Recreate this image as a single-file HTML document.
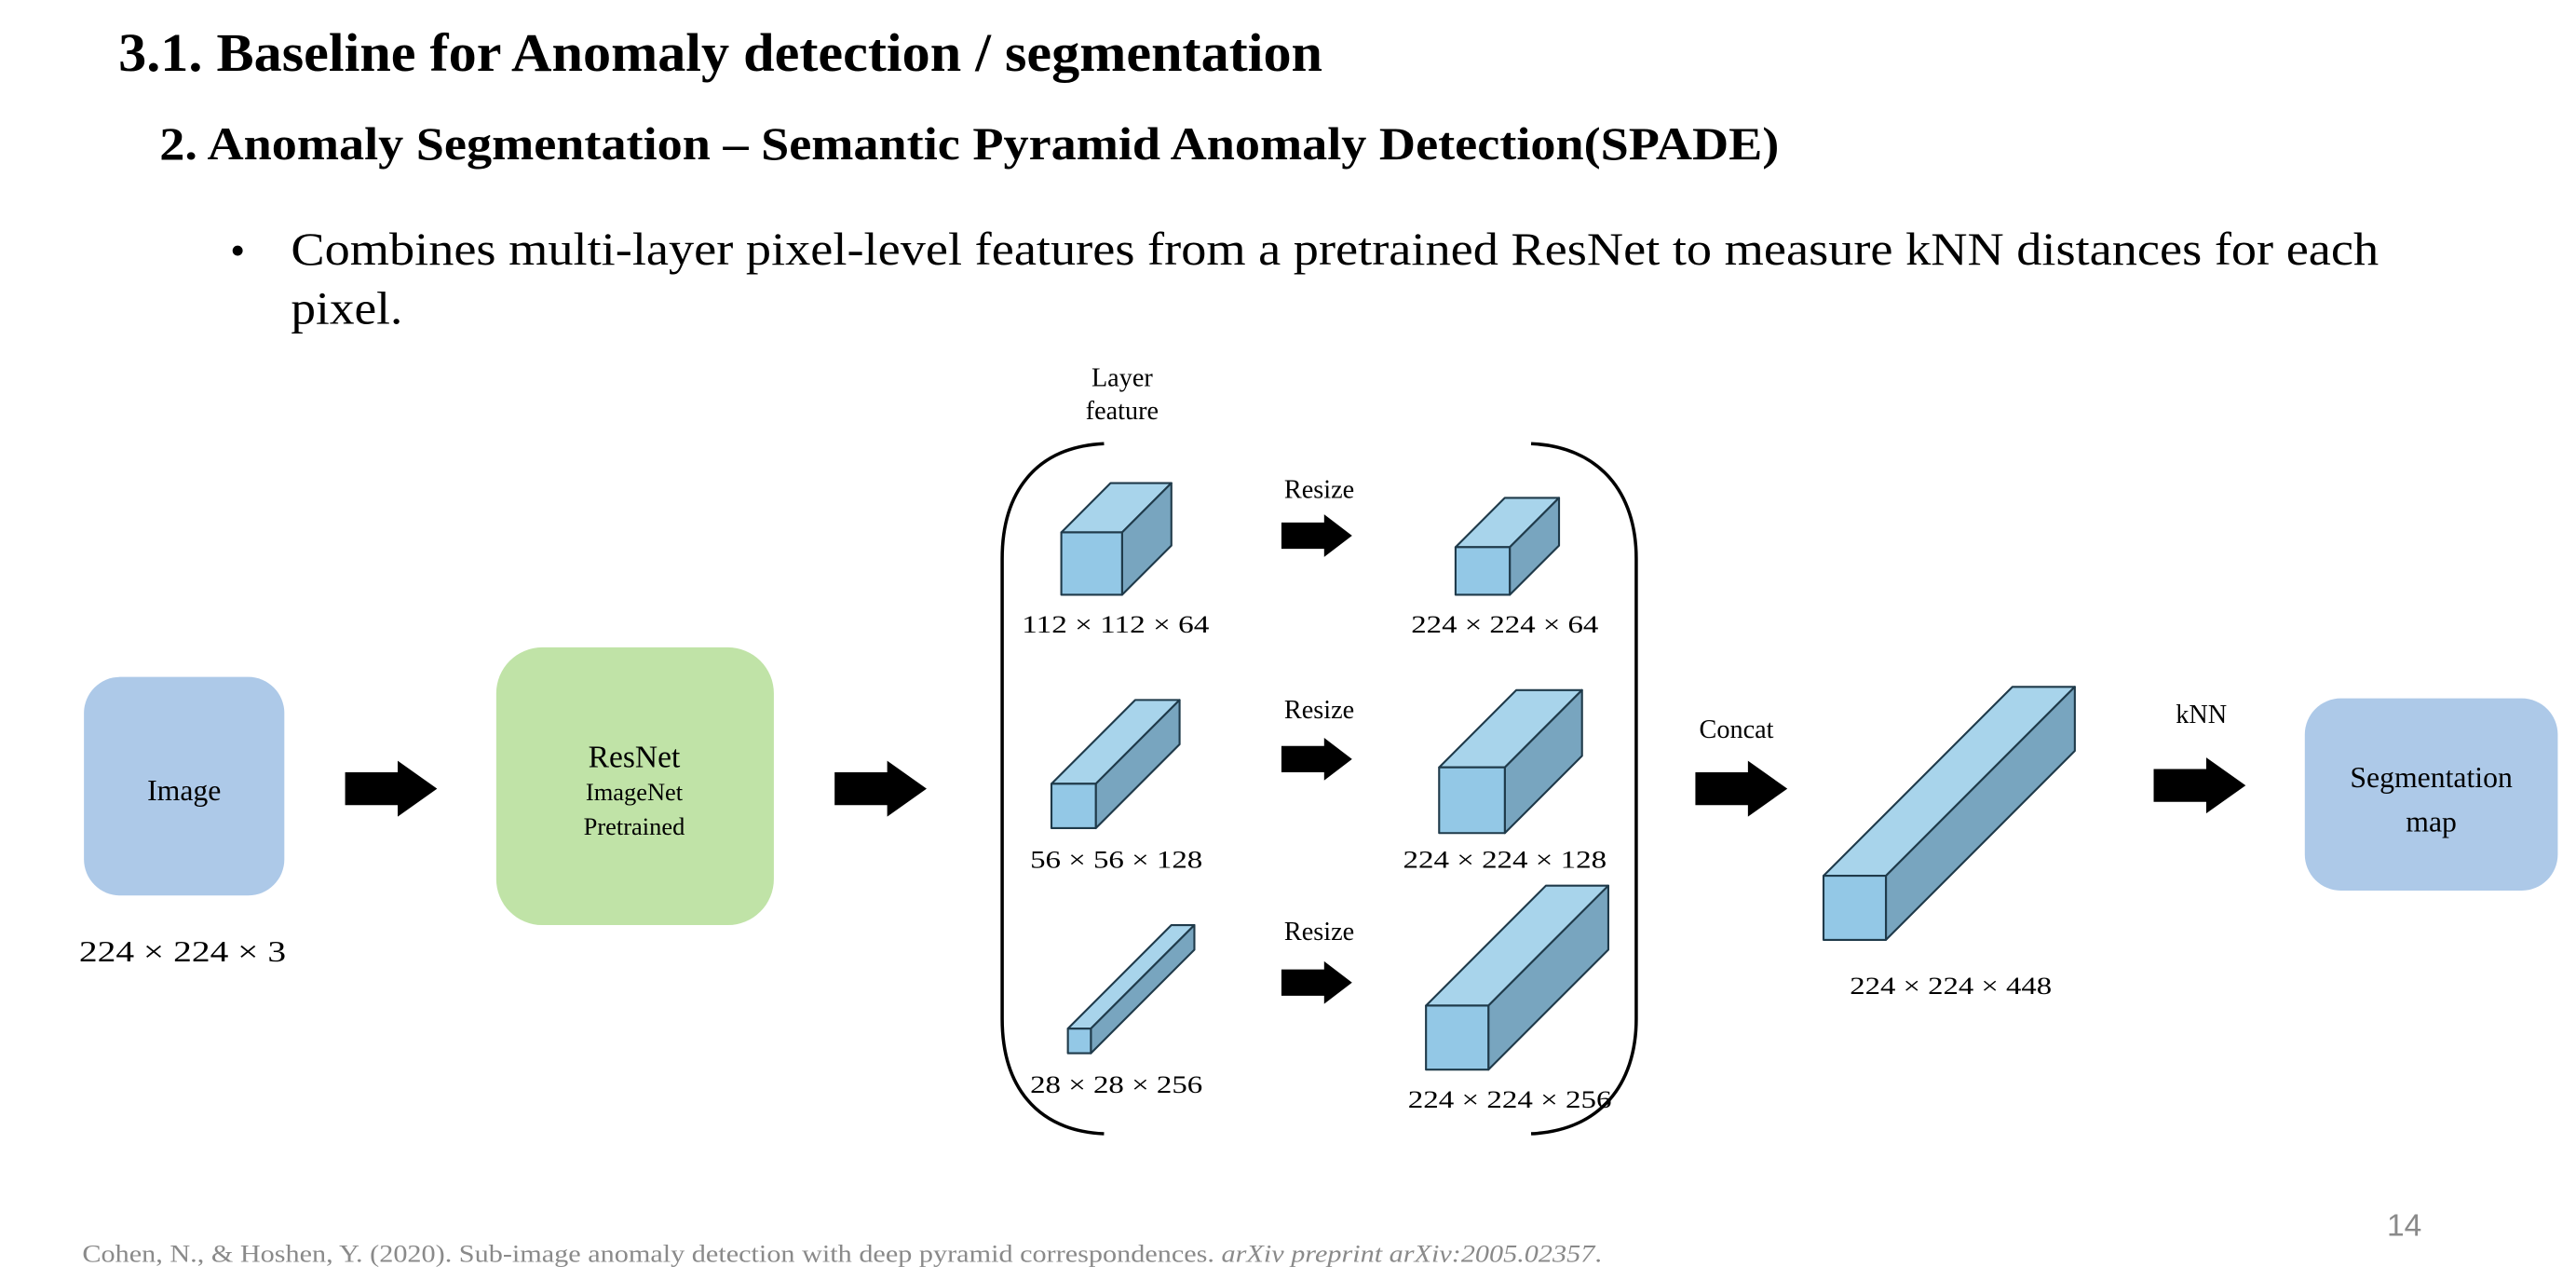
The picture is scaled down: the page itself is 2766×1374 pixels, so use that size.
<!DOCTYPE html>
<html><head><meta charset="utf-8"><style>
html,body{margin:0;padding:0;background:#fff;}
svg{display:block;}
text{font-family:"Liberation Serif",serif;}
</style></head><body>
<svg width="2766" height="1374" viewBox="0 0 1568 779" xmlns="http://www.w3.org/2000/svg">
<defs>
<g id="arr"><polygon points="0,-10 32,-10 32,-17 56,0 32,17 32,10 0,10" fill="#000"/></g>
<g id="sarr"><polygon points="0,-8 26,-8 26,-13 43,0 26,13 26,8 0,8" fill="#000"/></g>
</defs>
<text x="72" y="43" font-size="33" font-weight="bold" textLength="733" lengthAdjust="spacingAndGlyphs">3.1. Baseline for Anomaly detection / segmentation</text>
<text x="97" y="97" font-size="28" font-weight="bold" textLength="986" lengthAdjust="spacingAndGlyphs">2. Anomaly Segmentation – Semantic Pyramid Anomaly Detection(SPADE)</text>
<text x="140" y="161" font-size="26">•</text>
<text x="177" y="161" font-size="28" textLength="1271" lengthAdjust="spacingAndGlyphs">Combines multi-layer pixel-level features from a pretrained ResNet to measure kNN distances for each</text>
<text x="177" y="197" font-size="28" textLength="68" lengthAdjust="spacingAndGlyphs">pixel.</text>

<rect x="51" y="412" width="122" height="133" rx="22" fill="#adc9e8"/>
<text x="112" y="487" font-size="18" text-anchor="middle">Image</text>
<text x="48" y="585" font-size="18" textLength="126" lengthAdjust="spacingAndGlyphs">224 × 224 × 3</text>
<use href="#arr" x="210" y="480"/>
<rect x="302" y="394" width="169" height="169" rx="28" fill="#c0e3a7"/>
<text x="386" y="467" font-size="19" text-anchor="middle">ResNet</text>
<text x="386" y="487" font-size="15" text-anchor="middle">ImageNet</text>
<text x="386" y="508" font-size="15" text-anchor="middle">Pretrained</text>
<use href="#arr" x="508" y="480"/>

<text x="683" y="235" font-size="16" text-anchor="middle">Layer</text>
<text x="683" y="255" font-size="16" text-anchor="middle">feature</text>
<path d="M672,270 C630,272 610,300 610,340 L610,620 C610,660 630,688 672,690" fill="none" stroke="#000" stroke-width="2"/>
<path d="M932,270 C974,272 996,300 996,340 L996,620 C996,660 974,688 932,690" fill="none" stroke="#000" stroke-width="2"/>

<g stroke="#1f3a4a" stroke-width="1.2" stroke-linejoin="round">
<polygon points="646,324 676,294 713,294 683,324" fill="#a8d4eb"/><polygon points="683,324 713,294 713,332 683,362" fill="#78a5bf"/><rect x="646" y="324" width="37" height="38" fill="#93c8e6"/>
<polygon points="640,477 691,426 718,426 667,477" fill="#a8d4eb"/><polygon points="667,477 718,426 718,453 667,504" fill="#78a5bf"/><rect x="640" y="477" width="27" height="27" fill="#93c8e6"/>
<polygon points="650,626 713,563 727,563 664,626" fill="#a8d4eb"/><polygon points="664,626 727,563 727,578 664,641" fill="#78a5bf"/><rect x="650" y="626" width="14" height="15" fill="#93c8e6"/>
<polygon points="886,333 916,303 949,303 919,333" fill="#a8d4eb"/><polygon points="919,333 949,303 949,332 919,362" fill="#78a5bf"/><rect x="886" y="333" width="33" height="29" fill="#93c8e6"/>
<polygon points="876,467 923,420 963,420 916,467" fill="#a8d4eb"/><polygon points="916,467 963,420 963,460 916,507" fill="#78a5bf"/><rect x="876" y="467" width="40" height="40" fill="#93c8e6"/>
<polygon points="868,612 941,539 979,539 906,612" fill="#a8d4eb"/><polygon points="906,612 979,539 979,578 906,651" fill="#78a5bf"/><rect x="868" y="612" width="38" height="39" fill="#93c8e6"/>
<polygon points="1110,533 1225,418 1263,418 1148,533" fill="#a8d4eb"/><polygon points="1148,533 1263,418 1263,457 1148,572" fill="#78a5bf"/><rect x="1110" y="533" width="38" height="39" fill="#93c8e6"/>
</g>
<g font-size="15" lengthAdjust="spacingAndGlyphs">
<text x="622" y="385" textLength="114" lengthAdjust="spacingAndGlyphs">112 × 112 × 64</text>
<text x="627" y="528" textLength="105" lengthAdjust="spacingAndGlyphs">56 × 56 × 128</text>
<text x="627" y="665" textLength="105" lengthAdjust="spacingAndGlyphs">28 × 28 × 256</text>
<text x="859" y="385" textLength="114" lengthAdjust="spacingAndGlyphs">224 × 224 × 64</text>
<text x="854" y="528" textLength="124" lengthAdjust="spacingAndGlyphs">224 × 224 × 128</text>
<text x="857" y="674" textLength="124" lengthAdjust="spacingAndGlyphs">224 × 224 × 256</text>
<text x="1126" y="605" textLength="123" lengthAdjust="spacingAndGlyphs">224 × 224 × 448</text>
</g>
<g font-size="16" text-anchor="middle">
<text x="803" y="303">Resize</text>
<text x="803" y="437">Resize</text>
<text x="803" y="572">Resize</text>
<text x="1057" y="449">Concat</text>
<text x="1340" y="440">kNN</text>
</g>
<use href="#sarr" x="780" y="326"/>
<use href="#sarr" x="780" y="462"/>
<use href="#sarr" x="780" y="598"/>
<use href="#arr" x="1032" y="480"/>
<use href="#arr" x="1311" y="478"/>
<rect x="1403" y="425" width="154" height="117" rx="22" fill="#adc9e8"/>
<text x="1480" y="479" font-size="18" text-anchor="middle">Segmentation</text>
<text x="1480" y="506" font-size="18" text-anchor="middle">map</text>

<text x="50" y="768" font-size="15" fill="#8a8a8a" textLength="925" lengthAdjust="spacingAndGlyphs">Cohen, N., &amp; Hoshen, Y. (2020). Sub-image anomaly detection with deep pyramid correspondences. <tspan font-style="italic">arXiv preprint arXiv:2005.02357</tspan>.</text>
<text x="1453" y="752" font-size="19" fill="#8a8a8a" style="font-family:'Liberation Sans',sans-serif">14</text>
</svg>
</body></html>
